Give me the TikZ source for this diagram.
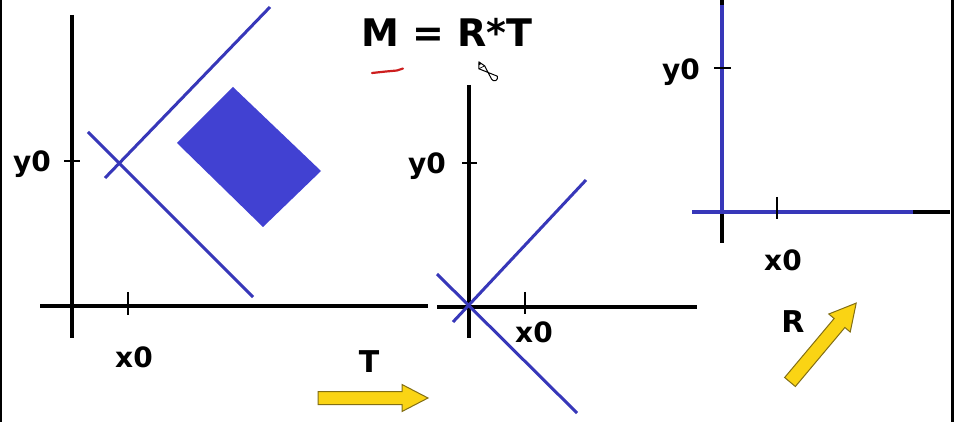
\documentclass[tikz,border=0pt]{standalone}
\usepackage{fontspec}
\setmainfont{DejaVu Sans}
\begin{document}
\begin{tikzpicture}[x=1pt,y=-1pt,
  axis/.style={line width=3.6pt,black},
  tickmark/.style={line width=1.2pt,black},
  blueline/.style={line width=3pt,color={rgb,255:red,55;green,55;blue,185}},
  lbl/.style={inner sep=0pt,anchor=base,font=\bfseries\fontsize{28}{30}\selectfont},
  yarrow/.style={fill={rgb,255:red,250;green,212;blue,20},draw={rgb,255:red,130;green,110;blue,20},line width=1pt,line join=miter}]
\useasboundingbox (0,0) rectangle (954,422);
\fill[white] (0,0) rectangle (954,422);
% frame edges
\draw[line width=2.4pt] (1,0) -- (1,422);
\draw[line width=2.4pt] (952.5,0) -- (952.5,422);

% ---- left panel ----
\draw[axis] (72,15) -- (72,338);
\draw[axis] (40,306) -- (428,306);
\draw[tickmark] (128,292) -- (128,315);
\draw[tickmark] (64,161) -- (80,161);
\draw[blueline] (105,178) -- (270,7);
\draw[blueline] (88,132) -- (253,297);
\fill[color={rgb,255:red,65;green,65;blue,210}] (233,87) -- (321,171) -- (263,227) -- (177,143) -- cycle;
\node[lbl] (ly) at (32,172) {y0};
\node[lbl] (lx) at (134,367) {x0};

% ---- middle panel ----
\draw[axis] (469,85) -- (469,338);
\draw[axis] (437,307) -- (697,307);
\draw[tickmark] (525,292) -- (525,314);
\draw[tickmark] (462,163) -- (477,163);
\draw[blueline] (437,274) -- (577,413);
\draw[blueline] (453,322) -- (586,180);
\node[lbl] (my) at (427,174) {y0};
\node[lbl] (mx) at (534,342) {x0};

% ---- right panel ----
\draw[axis] (722,0) -- (722,243);
\draw[axis] (692,212) -- (950,212);
\draw[blueline,line width=3.4pt] (722,5) -- (722,212);
\draw[blueline,line width=3.4pt] (692,212) -- (913,212);
\draw[tickmark] (777,197) -- (777,219);
\draw[tickmark] (714,68) -- (731,68);
\node[lbl] (ry) at (681,80) {y0};
\node[lbl] (rx) at (783,271) {x0};

% ---- title ----
\node[inner sep=0pt,anchor=base,font=\bfseries\fontsize{38}{40}\selectfont] (title) at (447,47) {M = R*T};
\draw[line width=2.2pt,color={rgb,255:red,205;green,30;blue,30},line cap=round] (372,73) -- (386,71.5) -- (397,70.5) -- (403,68.5);
% pencil cursor
\begin{scope}[shift={(479,62)},rotate=-62.4]
  \draw[fill=white,line width=1pt] (0,0) -- (6,-3.2) -- (21,-3.2) arc (90:-90:3.2) -- (6,3.2) -- cycle;
  \fill (0,0) -- (2.8,-1.5) -- (2.8,1.5) -- cycle;
  \draw[line width=0.7pt] (6,-3.2) -- (6,3.2);
\end{scope}

% ---- arrows ----
\node[inner sep=0pt,anchor=base,font=\bfseries\fontsize{30}{32}\selectfont] (tl) at (369,373) {T};
\begin{scope}[shift={(318,398)}]
  \draw[yarrow] (0,-6.5) -- (84,-6.5) -- (84,-13.5) -- (110,0) -- (84,13.5) -- (84,6.5) -- (0,6.5) -- cycle;
\end{scope}
\node[inner sep=0pt,anchor=base,font=\bfseries\fontsize{30}{32}\selectfont] (rl) at (793,333) {R};
\begin{scope}[shift={(790,382)},rotate=50]
  \draw[yarrow] (0,-7) -- (77,-7) -- (77,-14) -- (103,0) -- (77,14) -- (77,7) -- (0,7) -- cycle;
\end{scope}
\end{tikzpicture}
\end{document}
